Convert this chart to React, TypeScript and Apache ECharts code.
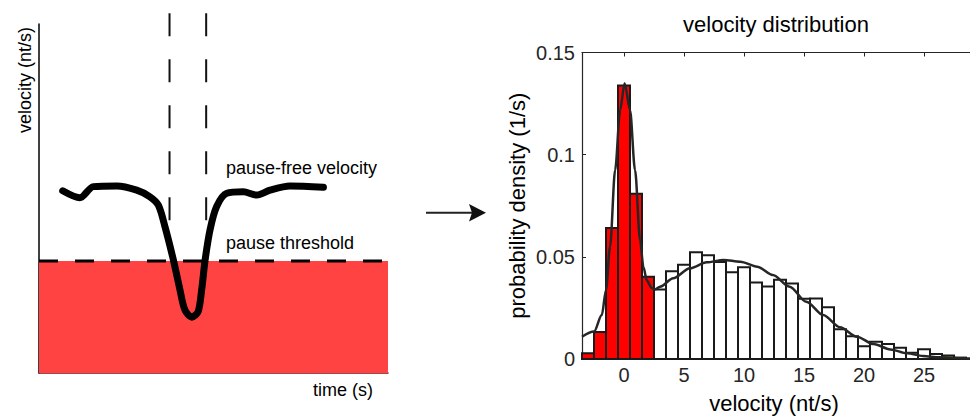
import React, { useEffect, useRef } from "react";
import * as echarts from "echarts";

// ---------- left panel (schematic) ----------
const traceTime = [6.8, 11.7, 15.6, 22.3, 28.0, 31.8, 34.2, 36.1, 38.5, 40.4, 41.8, 43.8, 45.6, 46.6, 47.6, 49.0, 50.9, 53.8, 58.5, 62.4, 66.2, 71.9, 81.5];
const traceVelocity = [52.2, 50.2, 53.4, 53.6, 52.4, 50.5, 48.1, 41.9, 32.4, 23.8, 18.1, 16.0, 17.6, 23.8, 32.4, 41.0, 47.7, 51.5, 51.9, 51.0, 52.4, 53.6, 53.2];
const pauseThreshold = 32.1;
const pauseWindow = [37.4, 47.9];
const pauseWindowSpan = [43.3, 103.1];
const schematicRange = [0, 100];

// ---------- right panel (histogram) ----------
const binCenters = [-3, -2, -1, 0, 1, 2, 3, 4, 5, 6, 7, 8, 9, 10, 11, 12, 13, 14, 15, 16, 17, 18, 19, 20, 21, 22, 23, 24, 25, 26, 27, 28];
const binDensity = [0.0028, 0.0132, 0.0641, 0.1338, 0.0809, 0.0403, 0.034, 0.0429, 0.0461, 0.0522, 0.0508, 0.0475, 0.0424, 0.0449, 0.0375, 0.0355, 0.0388, 0.037, 0.0295, 0.0296, 0.0253, 0.0145, 0.0111, 0.0062, 0.0084, 0.0074, 0.0055, 0.003, 0.0048, 0.0025, 0.0017, 0.0007];
const binWidth = 1;
const histPauseThreshold = 2.5;
const highlightBin = 27;

const fitX = [-3.5, -2.5, -1.85, -1.5, -1.16, -0.74, -0.32, 0.05, 0.5, 0.92, 1.34, 1.62, 1.9, 2.3, 2.6, 3.0, 4.1, 5.5, 6.9, 8.3, 9.7, 11.1, 12.4, 13.8, 15.2, 16.6, 18.0, 19.4, 20.8, 22.2, 23.6, 24.9, 26.3, 28.8, 30];
const fitDensity = [0.0109, 0.0134, 0.0215, 0.0338, 0.055, 0.0925, 0.1219, 0.135, 0.1219, 0.0925, 0.058, 0.045, 0.0385, 0.0348, 0.0341, 0.0354, 0.0395, 0.0444, 0.0473, 0.0485, 0.0476, 0.0452, 0.0411, 0.0354, 0.028, 0.0215, 0.0155, 0.0109, 0.0073, 0.0047, 0.0028, 0.0015, 0.0008, 0.0002, 0.0001];

const xTicks = [0, 5, 10, 15, 20, 25];
const yTicks = [0, 0.05, 0.1, 0.15];
const xRange = [-3.5, 30];

const FONT = '"Liberation Sans", Arial, Helvetica, sans-serif';
const AX = "#262626";

export default function App() {
  const ref = useRef<HTMLDivElement>(null);

  useEffect(() => {
    if (!ref.current) return;
    const chart = echarts.init(ref.current, undefined, { renderer: "svg" });

    const traceData = traceTime.map((t, i) => [t, traceVelocity[i]]);
    const histData = binCenters.map((c, i) => [c, binDensity[i]]);
    const fitData = fitX.map((x, i) => [x, fitDensity[i]]);

    const textEl = (text: string, x: number, y: number, size: number, opts: any = {}) => ({
      type: "text",
      x,
      y,
      rotation: opts.rotation || 0,
      style: {
        text,
        font: `${size}px ${FONT}`,
        fill: opts.fill || "#000",
        textAlign: opts.align || "left",
        textVerticalAlign: "middle",
      },
    });

    const option: any = {
      animation: false,
      backgroundColor: "#fff",
      grid: [
        { left: 39, top: 24, width: 349, height: 349, outerBoundsMode: "none" },
        { left: 582, top: 52.5, width: 402, height: 306.5, outerBoundsMode: "none" },
      ],
      xAxis: [
        {
          gridIndex: 0,
          type: "value",
          min: schematicRange[0],
          max: schematicRange[1],
          axisLine: { show: true, onZero: false, lineStyle: { color: "#7a1010", width: 1.5 } },
          axisTick: { show: false },
          axisLabel: { show: false },
          splitLine: { show: false },
        },
        {
          gridIndex: 1,
          type: "value",
          position: "bottom",
          min: xRange[0],
          max: xRange[1],
          axisLine: { show: true, onZero: false, lineStyle: { color: AX, width: 1.2 } },
          axisTick: { show: true, inside: true, length: 4, customValues: xTicks, lineStyle: { color: AX } },
          axisLabel: { show: true, customValues: xTicks, margin: 6, fontSize: 20, color: AX, fontFamily: FONT },
          splitLine: { show: false },
        },
        {
          gridIndex: 1,
          type: "value",
          position: "top",
          min: xRange[0],
          max: xRange[1],
          axisLine: { show: true, onZero: false, lineStyle: { color: AX, width: 1.2 } },
          axisTick: { show: true, inside: true, length: 4, customValues: xTicks, lineStyle: { color: AX } },
          axisLabel: { show: false },
          splitLine: { show: false },
        },
      ],
      yAxis: [
        {
          gridIndex: 0,
          type: "value",
          min: schematicRange[0],
          max: schematicRange[1],
          axisLine: { show: true, onZero: false, lineStyle: { color: "#000", width: 1.5 } },
          axisTick: { show: false },
          axisLabel: { show: false },
          splitLine: { show: false },
        },
        {
          gridIndex: 1,
          type: "value",
          min: yTicks[0],
          max: yTicks[yTicks.length - 1],
          interval: 0.05,
          axisLine: { show: true, onZero: false, lineStyle: { color: AX, width: 1.2 } },
          axisTick: { show: true, inside: true, length: 4, lineStyle: { color: AX } },
          axisLabel: { show: true, margin: 7, fontSize: 20, color: AX, fontFamily: FONT },
          splitLine: { show: false },
        },
      ],
      series: [
        {
          name: "pause threshold",
          type: "line",
          xAxisIndex: 0,
          yAxisIndex: 0,
          data: [
            [schematicRange[0], pauseThreshold],
            [schematicRange[1], pauseThreshold],
          ],
          showSymbol: false,
          lineStyle: { color: "#000", width: 3, type: [19, 17] },
          areaStyle: { color: "#ff4242", opacity: 1, origin: "start" },
          z: 1,
        },
        ...pauseWindow.map((t) => ({
          type: "line",
          xAxisIndex: 0,
          yAxisIndex: 0,
          clip: false,
          data: [
            [t, pauseWindowSpan[1]],
            [t, pauseWindowSpan[0]],
          ],
          showSymbol: false,
          lineStyle: { color: "#111", width: 2, type: [23, 23] },
          z: 2,
        })),
        {
          name: "velocity",
          type: "line",
          xAxisIndex: 0,
          yAxisIndex: 0,
          data: traceData,
          smooth: 0.3,
          showSymbol: false,
          lineStyle: { color: "#000", width: 7, cap: "round", join: "round" },
          z: 3,
        },
        {
          name: "histogram",
          type: "custom",
          xAxisIndex: 1,
          yAxisIndex: 1,
          data: histData,
          renderItem: (params: any, api: any) => {
            const c = api.value(0);
            const v = api.value(1);
            const p0 = api.coord([c - binWidth / 2, v]);
            const p1 = api.coord([c + binWidth / 2, 0]);
            let fill = "#ffffff";
            if (c < histPauseThreshold) fill = "#ff0000";
            if (c === highlightBin) fill = "#c8c400";
            return {
              type: "rect",
              shape: { x: p0[0], y: p0[1], width: p1[0] - p0[0], height: p1[1] - p0[1] },
              style: { fill, stroke: "#1a1a1a", lineWidth: 2 },
            };
          },
          z: 2,
        },
        {
          name: "fit",
          type: "line",
          xAxisIndex: 1,
          yAxisIndex: 1,
          data: fitData,
          smooth: 0.3,
          smoothMonotone: "x",
          showSymbol: false,
          lineStyle: { color: AX, width: 2.5 },
          z: 4,
        },
      ],
      graphic: [
        textEl("pause-free velocity", 226, 168, 18),
        textEl("pause threshold", 226, 243, 18),
        textEl("time (s)", 373, 390, 18, { align: "right" }),
        textEl("velocity (nt/s)", 25, 80, 18, { align: "center", rotation: Math.PI / 2 }),
        {
          type: "line",
          shape: { x1: 426, y1: 212.7, x2: 473, y2: 212.7 },
          style: { stroke: "#222", lineWidth: 2 },
        },
        {
          type: "polygon",
          shape: { points: [[469, 204], [486, 212.7], [469, 221.5], [472, 212.7]] },
          style: { fill: "#111" },
        },
        textEl("velocity distribution", 776, 24, 22, { align: "center", fill: "#000" }),
        textEl("probability density (1/s)", 517, 205.75, 22, { align: "center", rotation: Math.PI / 2, fill: "#000" }),
        textEl("velocity (nt/s)", 774, 403, 22, { align: "center", fill: "#000" }),
      ],
    };

    chart.setOption(option);
    return () => chart.dispose();
  }, []);

  return (
    <div
      ref={ref}
      style={{ position: "fixed", left: 0, top: 0, width: 970, height: 416, background: "#fff" }}
    />
  );
}
